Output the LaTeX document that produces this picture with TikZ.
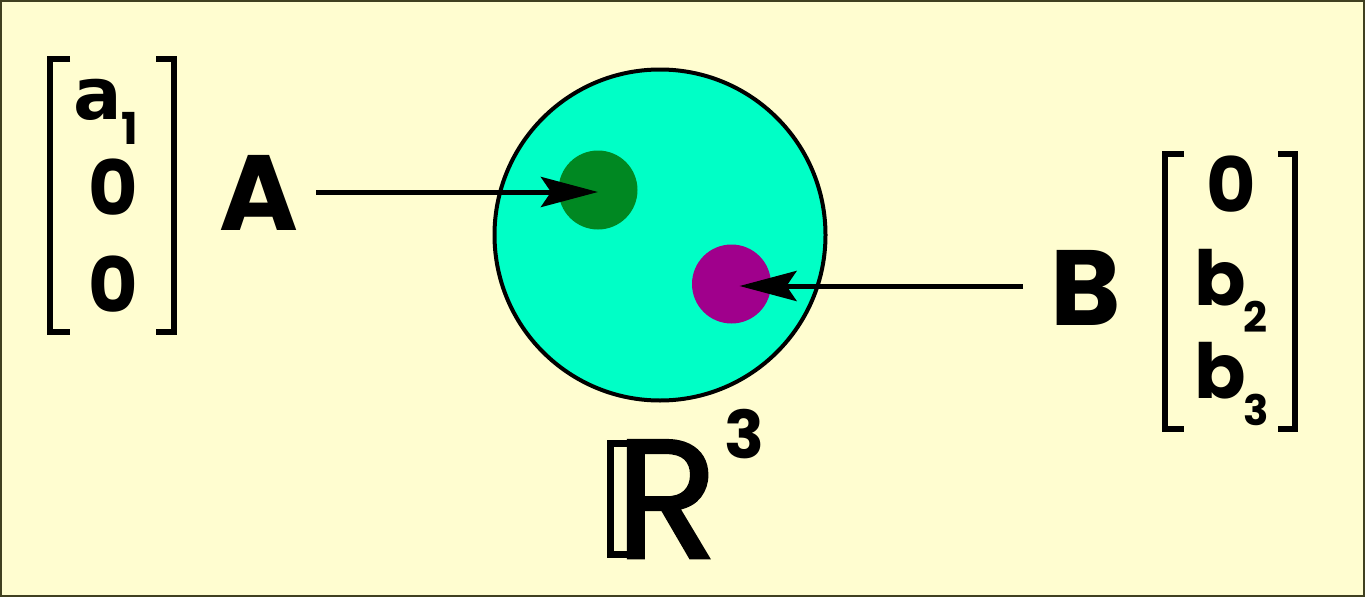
\documentclass[tikz,border=0pt]{standalone}
\usepackage{fontspec}
\setmainfont{Poppins}
\newfontfamily\afont{DejaVu Sans}
\newfontfamily\rfont{Poppins}[FakeBold=1.5]
\usetikzlibrary{arrows.meta}
\definecolor{bg}{RGB}{255,253,208}
\definecolor{frame}{RGB}{64,64,32}
\definecolor{aqua}{RGB}{0,255,198}
\definecolor{dgreen}{RGB}{0,136,34}
\definecolor{purp}{RGB}{160,0,140}
\begin{document}
\begin{tikzpicture}[x=1pt,y=-1pt,
  lbl/.style={font=\bfseries\fontsize{107}{107}\selectfont, inner sep=0pt, anchor=base},
  ent/.style={font=\bfseries\fontsize{76}{76}\selectfont, inner sep=0pt, anchor=base},
  sub/.style={font=\bfseries\fontsize{42}{42}\selectfont, inner sep=0pt, anchor=base west},
  brk/.style={line width=6pt},
  arr/.style={line width=5pt, -{Stealth[length=57pt,width=30pt,inset=10pt]}},
  dot/.style={circle, minimum size=79pt, inner sep=0pt},
]
\useasboundingbox (0,0) rectangle (1365,597);
\fill[bg] (0,0) rectangle (1365,597);
\draw[frame, line width=2pt] (1,1) rectangle (1364,596);

% space
\node[circle, draw, line width=4pt, fill=aqua, minimum size=331pt, inner sep=0pt] (space) at (660,235) {};
\node[dot, fill=dgreen] (pa) at (598,190) {};
\node[dot, fill=purp] (pb) at (731.5,284) {};

% labels
\node[lbl] (A) at (258.5,230) {A};
\node[lbl] (B) at (1085.5,325) {B};

% arrows
\coordinate (a0) at (316,192);
\coordinate (b0) at (1023,286);
\draw[arr] (a0) -- (pa.center |- a0);
\draw[arr] (b0) -- ([xshift=8pt]pb.center |- b0);

% left vector
\draw[brk] (70,59) -- (50,59) -- (50,332) -- (70,332);
\draw[brk] (156,59) -- (174,59) -- (174,332) -- (156,332);
\node[ent, anchor=base east, font=\afont\bfseries\fontsize{72}{72}\selectfont] (a1) at (122,119) {a};
\node[sub, font=\bfseries\fontsize{44}{44}\selectfont] (a1s) at (121,144) {1};
\node[ent] (a2) at (113,215) {0};
\node[ent] (a3) at (113,312) {0};

% right vector
\draw[brk] (1184,154) -- (1165,154) -- (1165,429) -- (1184,429);
\draw[brk] (1278,154) -- (1295,154) -- (1295,429) -- (1278,429);
\node[ent] (b1) at (1231,212) {0};
\node[ent] (b2) at (1220,305) {b};
\node[sub] (b2s) at (1243,332) {2};
\node[ent] (b3) at (1220,398) {b};
\node[sub] (b3s) at (1243,425) {3};

% R^3
\draw[line width=7pt] (610.5,443.5) rectangle (632,554.5);
\node[font=\rfont\fontsize{169}{169}\selectfont, inner sep=0pt, anchor=base west] (R) at (615,558) {R};
\node[font=\bfseries\fontsize{66}{66}\selectfont, inner sep=0pt, anchor=base] (three) at (744,458) {3};
\end{tikzpicture}
\end{document}
